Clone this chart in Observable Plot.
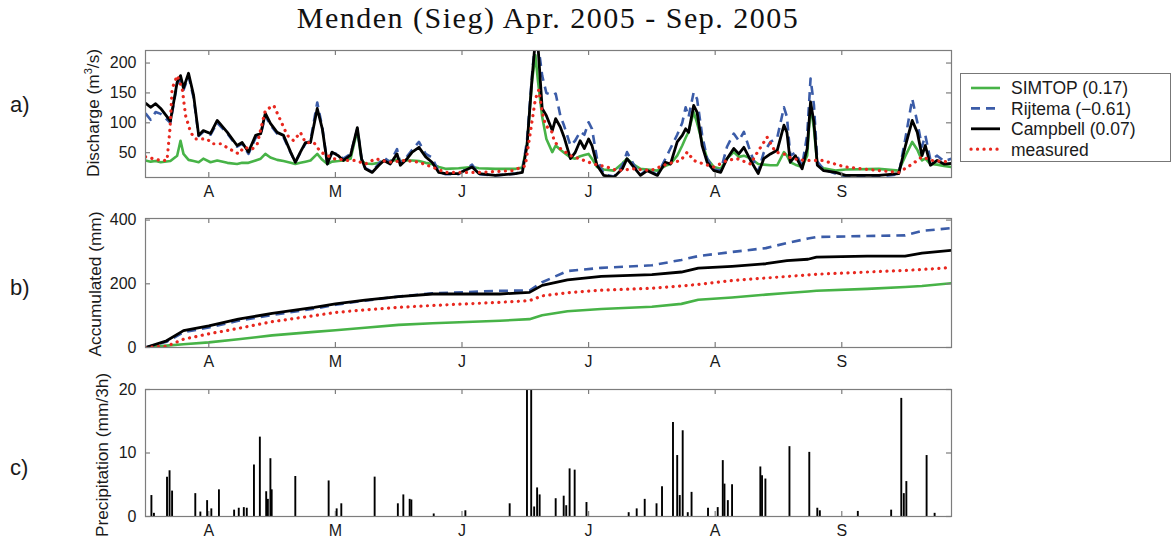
<!DOCTYPE html>
<html>
<head>
<meta charset="utf-8">
<script src="https://cdn.jsdelivr.net/npm/d3@7"></script>
<script src="https://cdn.jsdelivr.net/npm/@observablehq/plot@0.6"></script>
<style>
  body { margin: 0; background: #fff; width: 1172px; height: 543px; position: relative; overflow: hidden;
         font-family: "Liberation Sans", Arial, Helvetica, sans-serif; color: #1a1a1a; }
  .abs { position: absolute; }
  #title { left: 0; width: 1096px; top: 0px; text-align: center; font-family: "Liberation Serif", "Times New Roman", serif;
           font-size: 30px; letter-spacing: 1.5px; line-height: 36px; color: #111; }
  .ylab { position: absolute; transform: translate(-50%, -50%) rotate(-90deg); white-space: nowrap; font-size: 17.3px; line-height: 20px; }
  .ylab sup { font-size: 11px; vertical-align: 7px; line-height: 0; }
  .plab { position: absolute; font-size: 22px; line-height: 24px; transform: translateY(-50%); }
  #legend { left: 960px; top: 73px; width: 209px; height: 87px; border: 1px solid #777; background: #fff; }
</style>
</head>
<body>
<div id="title" class="abs">Menden (Sieg) Apr. 2005 - Sep. 2005</div>
<div class="plab" style="left:10px; top:105px">a)</div>
<div class="plab" style="left:10px; top:288px">b)</div>
<div class="plab" style="left:10px; top:468px">c)</div>
<div class="ylab" style="left:93px; top:113px">Discharge (m<sup>3</sup>/s)</div>
<div class="ylab" style="left:95px; top:284px">Accumulated (mm)</div>
<div class="ylab" style="left:102px; top:455px">Precipitation (mm/3h)</div>
<div id="panelA" class="abs" style="left:0; top:40px"></div>
<div id="panelB" class="abs" style="left:0; top:208px"></div>
<div id="panelC" class="abs" style="left:0; top:379px"></div>
<div id="legend" class="abs"></div>

<script>
// Time axis: days since 1 April 2005; month letters sit at mid-month
const monthTickDays = [15, 45, 75, 105, 135, 165];
const monthTickLabels = ["A", "M", "J", "J", "A", "S"];
const dayDomain = [0, 191];

// a) Discharge (m3/s): simulated series share one set of days
const simDays = [0, 1.2, 2.4, 3.6, 5.9, 7.5, 8.3, 9.0, 10.2, 11.4, 12.6, 13.7, 15.4, 17.0, 19.4, 21.7, 22.9, 24.4, 26.1, 27.3,
  28.4, 29.6, 31.2, 32.7, 34.4, 35.5, 36.7, 37.9, 39.1, 40.7, 41.9, 43.1, 44.2, 45.7, 46.9, 48.6, 50.2, 51.2, 52.1, 53.7,
  55.3, 56.5, 58.0, 59.6, 60.4, 62.0, 63.2, 64.8, 66.4, 67.9, 69.5, 71.1, 74.2, 77.4, 79.0, 82.9, 87.7, 89.3, 90.4, 91.6,
  92.4, 93.0, 94.0, 95.0, 96.4, 97.2, 98.3, 99.2, 100.7, 101.8, 103.0, 104.0, 105.0, 105.8, 107.0, 108.6, 111.0, 113.0, 114.1, 115.7,
  117.3, 118.9, 121.3, 123.2, 124.4, 126.0, 127.2, 128.0, 128.7, 129.9, 130.7, 131.9, 133.1, 134.7, 136.3, 137.8, 139.4, 140.6, 141.8, 143.4,
  145.2, 146.5, 148.1, 149.7, 151.3, 152.0, 152.8, 154.0, 155.6, 156.8, 157.6, 158.4, 159.2, 160.7, 163.5, 165.9, 173.8, 178.5, 180.1, 181.7,
  182.9, 184.0, 184.8, 186.0, 187.6, 189.2, 191.0];
const simtopQ = [37, 35, 36, 34, 36, 45, 70, 48, 38, 36, 34, 40, 34, 37, 33, 31, 33, 33, 37, 40,
  48, 42, 38, 36, 33, 31, 33, 35, 37, 48, 38, 31, 35, 36, 37, 40, 88, 37, 32, 31,
  33, 36, 36, 38, 36, 37, 37, 36, 33, 31, 26, 23, 24, 26, 24, 23, 23, 25, 62, 170,
  213, 170, 110, 73, 51, 62, 55, 50, 42, 40, 44, 46, 48, 40, 26, 22, 20, 32, 40, 30,
  23, 22, 20, 28, 31, 45, 62, 75, 85, 118, 100, 68, 40, 26, 23, 40, 51, 43, 45, 40,
  31, 30, 29, 29, 51, 45, 34, 30, 26, 45, 129, 90, 31, 24, 20, 22, 23, 20, 45, 68,
  55, 37, 40, 31, 30, 28, 26];
const rijtemaQ = [116, 105, 118, 115, 100, 165, 172, 155, 178, 142, 78, 85, 80, 100, 82, 60, 65, 48, 75, 80,
  112, 96, 82, 76, 50, 34, 50, 65, 70, 134, 92, 31, 50, 47, 40, 48, 90, 40, 24, 18,
  32, 42, 34, 56, 32, 44, 55, 68, 48, 42, 18, 14, 14, 30, 14, 12, 15, 20, 70, 180,
  240, 235, 179, 150, 146, 149, 112, 95, 62, 70, 85, 80, 101, 90, 40, 14, 10, 28, 51, 30,
  13, 22, 13, 40, 57, 80, 100, 126, 110, 151, 140, 80, 40, 22, 20, 60, 82, 70, 85, 50,
  18, 50, 68, 75, 126, 110, 45, 50, 28, 80, 174, 130, 35, 22, 15, 10, 10, 14, 75, 140,
  101, 60, 79, 38, 45, 36, 40];
const campbellQ = [133, 126, 132, 124, 103, 168, 179, 158, 183, 146, 79, 87, 82, 104, 84, 62, 67, 51, 79, 82,
  116, 99, 84, 79, 51, 34, 51, 67, 67, 124, 90, 31, 51, 45, 37, 46, 92, 40, 23, 17,
  29, 37, 31, 48, 29, 40, 51, 59, 43, 34, 17, 15, 15, 26, 15, 12, 15, 17, 62, 174,
  240, 230, 124, 112, 87, 107, 93, 76, 40, 50, 70, 57, 73, 62, 29, 12, 9, 23, 40, 26,
  12, 20, 12, 34, 31, 68, 79, 90, 84, 129, 118, 62, 34, 20, 17, 40, 57, 48, 59, 37,
  15, 40, 48, 54, 96, 84, 34, 45, 23, 57, 135, 101, 29, 20, 17, 12, 12, 15, 62, 104,
  84, 45, 62, 29, 37, 31, 32];
const measuredDays = [0, 3.6, 5.1, 5.8, 6.3, 7.5, 8.7, 9.5, 10.7, 11.8, 14.6, 15.8, 17.8, 20.5, 22.1, 23.3, 25.3, 26.5, 28.4, 30.4,
  32.0, 33.6, 35.1, 36.7, 37.9, 39.9, 41.5, 44.6, 47.8, 49.8, 52.1, 54.5, 57.7, 61.6, 64.8, 67.9, 71.1, 79.0, 86.9, 90.0,
  91.2, 92.4, 93.2, 94.0, 94.8, 96.4, 96.8, 98.3, 100.7, 103.9, 106.2, 109.4, 111.8, 115.7, 119.7, 123.6, 126.8, 128.4, 129.9, 132.3,
  134.7, 137.8, 140.2, 143.4, 144.5, 147.3, 149.3, 151.3, 153.2, 156.4, 160.4, 165.9, 173.8, 178.5, 181.7, 184.0, 186.4, 191.0];
const measuredQ = [43, 37, 37, 90, 157, 179, 157, 112, 84, 73, 73, 65, 65, 54, 48, 59, 56, 65, 121, 129,
  104, 79, 70, 84, 67, 67, 51, 40, 37, 37, 31, 40, 34, 37, 34, 26, 17, 17, 20, 28,
  84, 140, 155, 118, 96, 84, 70, 57, 45, 37, 31, 26, 20, 23, 20, 31, 37, 51, 37, 31,
  26, 37, 40, 31, 45, 76, 51, 48, 40, 37, 37, 26, 20, 17, 31, 43, 37, 34];
const dischargeTicks = [50, 100, 150, 200];

// b) Accumulated discharge (mm)
const accDays = [0, 5, 9, 15, 22, 30, 40, 45, 52, 60, 68, 84, 91, 94, 100, 108, 120, 127, 131, 139, 147, 152, 157, 159, 171, 180, 184, 191];
const simtopAcc = [0, 6, 10, 16, 26, 38, 49, 54, 62, 71, 76, 84, 89, 101, 114, 121, 128, 137, 150, 157, 166, 171, 176, 178, 184, 190, 193, 202];
const rijtemaAcc = [0, 18, 48, 63, 84, 102, 122, 134, 147, 160, 170, 178, 179, 205, 240, 250, 258, 275, 287, 300, 312, 328, 342, 347, 350, 352, 366, 375];
const campbellAcc = [0, 21, 53, 68, 89, 107, 126, 137, 149, 160, 168, 168, 173, 195, 212, 223, 229, 237, 249, 255, 263, 273, 277, 284, 287, 287, 296, 305];
const measuredAcc = [0, 4, 26, 43, 60, 81, 100, 110, 118, 126, 132, 142, 147, 162, 172, 180, 186, 193, 198, 210, 218, 223, 228, 230, 237, 242, 245, 251];
const accTicks = [0, 200, 400];

// c) Precipitation (mm/3h)
const precipDays = [1.4, 2.0, 5.1, 5.7, 6.3, 11.8, 13.0, 14.6, 15.6, 17.4, 21.0, 22.1, 23.3, 24.0, 25.7, 27.1, 28.6, 29.0, 29.6, 29.9,
  35.5, 43.4, 45.3, 46.4, 54.3, 59.8, 61.1, 62.6, 63.0, 68.3, 75.8, 86.3, 90.4, 91.4, 92.1, 92.8, 93.4, 97.2, 99.1, 99.7,
  100.5, 101.7, 104.5, 114.5, 116.4, 118.3, 121.1, 122.4, 125.0, 126.0, 126.6, 127.3, 128.5, 129.4, 133.3, 135.6, 136.8, 137.2, 138.0, 139.0,
  145.7, 146.1, 146.9, 152.6, 157.3, 159.2, 159.8, 168.8, 176.7, 179.1, 179.7, 180.3, 185.1, 187.0];
const precipMm = [3.3, 0.5, 6.2, 7.2, 4.0, 3.6, 0.7, 2.5, 1.2, 4.2, 1.0, 1.3, 1.4, 1.3, 8.1, 12.5, 3.9, 2.7, 9.1, 4.2,
  6.3, 5.6, 1.2, 2.0, 6.2, 2.0, 3.4, 2.7, 2.6, 0.4, 0.9, 2.0, 22, 22, 1.5, 4.5, 3.4, 2.8, 3.2, 1.7,
  7.5, 7.3, 2.2, 0.6, 1.2, 2.7, 2.0, 4.7, 14.8, 9.6, 3.3, 13.5, 0.6, 3.8, 1.3, 1.4, 8.8, 5.1, 2.5, 5.0,
  7.8, 6.4, 5.9, 11.0, 10.1, 1.3, 0.9, 0.8, 1.0, 18.6, 3.6, 5.5, 9.6, 0.5];
const precipTicks = [0, 10, 20];

// Series styling
const series = [
  {name: "SIMTOP (0.17)", color: "#47b347", width: 2.6, dash: null, cap: "butt"},
  {name: "Rijtema (\u22120.61)", color: "#3b5ca8", width: 2.6, dash: "9 6", cap: "butt"},
  {name: "Campbell (0.07)", color: "#000000", width: 2.8, dash: null, cap: "butt"},
  {name: "measured", color: "#e8281f", width: 3.2, dash: "0.1 6.4", cap: "round"}
];

const W = 1172, ML = 145, MR = 221, MT = 10, MB = 23;
const frameColor = "#7d7d7d";
const fontStyle = {fontSize: "16px", fontFamily: "'Liberation Sans', Arial, Helvetica, sans-serif", color: "#1a1a1a", background: "transparent"};

const rows = (xs, ys) => xs.map((d, i) => ({day: d, v: ys[i]}));

function framedPanel(height, yDomain, yTicks, marks) {
  const fw = W - ML - MR, fh = height - MT - MB, t = 5;
  return Plot.plot({
    width: W, height, marginLeft: ML, marginRight: MR, marginTop: MT, marginBottom: MB,
    style: fontStyle,
    x: {domain: dayDomain},
    y: {domain: yDomain},
    marks: [
      ...marks,
      Plot.frame({stroke: frameColor, strokeWidth: 1.2}),
      // inward tick marks on all four sides
      Plot.tickX(monthTickDays, {x: d => d, insetTop: fh - t, stroke: frameColor, strokeWidth: 1.2}),
      Plot.tickX(monthTickDays, {x: d => d, insetBottom: fh - t, stroke: frameColor, strokeWidth: 1.2}),
      Plot.tickY(yTicks, {y: d => d, insetRight: fw - t, stroke: frameColor, strokeWidth: 1.2}),
      Plot.tickY(yTicks, {y: d => d, insetLeft: fw - t, stroke: frameColor, strokeWidth: 1.2}),
      Plot.axisX(monthTickDays, {anchor: "bottom", tickSize: 0, tickPadding: 8, label: null,
        tickFormat: d => monthTickLabels[monthTickDays.indexOf(d)]}),
      Plot.axisY(yTicks, {anchor: "left", tickSize: 0, tickPadding: 9, label: null})
    ]
  });
}

function seriesLine(data, s) {
  return Plot.line(data, {x: "day", y: "v", stroke: s.color, strokeWidth: s.width,
    strokeDasharray: s.dash, strokeLinecap: s.cap, strokeLinejoin: "round", clip: true});
}

// a) discharge
const dischargeSets = [rows(simDays, simtopQ), rows(simDays, rijtemaQ), rows(simDays, campbellQ), rows(measuredDays, measuredQ)];
document.getElementById("panelA").append(
  framedPanel(160, [8.5, 221], dischargeTicks, dischargeSets.map((d, i) => seriesLine(d, series[i])))
);

// b) accumulated
const accSets = [rows(accDays, simtopAcc), rows(accDays, rijtemaAcc), rows(accDays, campbellAcc), rows(accDays, measuredAcc)];
document.getElementById("panelB").append(
  framedPanel(162, [0, 405], accTicks, accSets.map((d, i) => seriesLine(d, series[i])))
);

// c) precipitation
document.getElementById("panelC").append(
  framedPanel(160, [0, 20], precipTicks, [
    Plot.ruleX(rows(precipDays, precipMm), {x: "day", y1: 0, y2: "v", stroke: "#000", strokeWidth: 1.9, clip: true})
  ])
);

// Legend box
const lg = d3.select("#legend").append("svg").attr("width", 209).attr("height", 87);
series.forEach((s, i) => {
  const y = 14 + i * 20.4;
  lg.append("line").attr("x1", 10).attr("x2", 39).attr("y1", y).attr("y2", y)
    .attr("stroke", s.color).attr("stroke-width", s.width)
    .attr("stroke-dasharray", s.dash).attr("stroke-linecap", s.cap);
  lg.append("text").attr("x", 50).attr("y", y).attr("dy", "0.36em")
    .attr("font-size", "17.5px").attr("font-family", "'Liberation Sans', Arial, sans-serif")
    .attr("fill", "#1a1a1a").text(s.name);
});
</script>
</body>
</html>
